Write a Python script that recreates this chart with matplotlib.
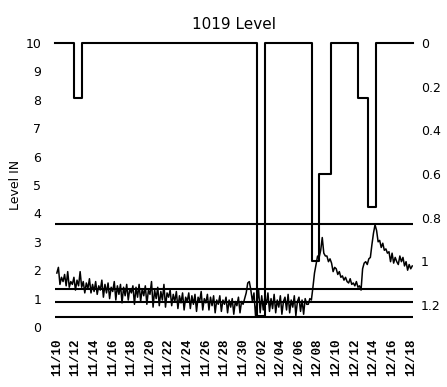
import numpy as np
import pandas as pd
import matplotlib
matplotlib.use("Agg")
import matplotlib.pyplot as plt
import matplotlib.dates as mdates

###############################################################################
# Data
###############################################################################
start_day = "2009-11-10"

# Level IN readings, every 4 hours from 11/10 00:00 (one row per day)
level_in = [
  1.90, 2.10, 1.50, 1.75, 1.60, 1.85,   # 11/10
  1.45, 1.95, 1.40, 1.60, 1.50, 1.75,   # 11/11
  1.30, 1.65, 1.45, 1.95, 1.40, 1.60,   # 11/12
  1.20, 1.55, 1.35, 1.70, 1.20, 1.50,   # 11/13
  1.25, 1.60, 1.15, 1.45, 1.30, 1.65,   # 11/14
  1.05, 1.50, 1.20, 1.55, 1.00, 1.40,   # 11/15
  1.25, 1.60, 0.95, 1.45, 1.15, 1.50,   # 11/16
  0.85, 1.40, 1.10, 1.50, 0.95, 1.35,   # 11/17
  1.20, 1.45, 0.80, 1.40, 1.05, 1.50,   # 11/18
  0.90, 1.35, 1.10, 1.45, 0.80, 1.30,   # 11/19
  1.15, 1.60, 0.70, 1.30, 1.00, 1.40,   # 11/20
  0.75, 1.25, 0.95, 1.50, 0.70, 1.20,   # 11/21
  1.05, 1.30, 0.75, 1.15, 0.90, 1.25,   # 11/22
  0.65, 1.10, 0.85, 1.20, 0.60, 1.05,   # 11/23
  0.90, 1.20, 0.65, 1.10, 0.80, 1.15,   # 11/24
  0.55, 1.05, 0.90, 1.25, 0.60, 1.00,   # 11/25
  0.85, 1.15, 0.60, 1.05, 0.75, 1.10,   # 11/26
  0.50, 0.95, 0.80, 1.10, 0.55, 0.95,   # 11/27
  0.80, 1.05, 0.50, 0.95, 0.70, 1.00,   # 11/28
  0.45, 0.90, 0.75, 1.05, 0.50, 0.90,   # 11/29
  0.80, 1.00, 1.20, 1.55, 1.60, 1.30,   # 11/30
  0.90, 1.20, 0.40, 0.90, 1.30, 0.50,   # 12/01
  1.10, 0.60, 1.05, 0.80, 1.20, 0.55,   # 12/02
  1.00, 0.65, 1.15, 0.50, 0.95, 0.70,   # 12/03
  1.10, 0.45, 0.90, 1.05, 0.60, 1.15,   # 12/04
  0.50, 0.95, 0.70, 1.10, 0.40, 0.90,   # 12/05
  1.05, 0.55, 0.95, 0.45, 1.00, 0.80,   # 12/06
  0.80, 1.00, 0.95, 1.40, 1.90, 2.20,   # 12/07
  2.50, 2.45, 2.70, 3.15, 2.60, 2.50,   # 12/08
  2.50, 2.30, 2.40, 2.25, 1.95, 2.10,   # 12/09
  2.05, 1.85, 1.95, 1.75, 1.80, 1.65,   # 12/10
  1.75, 1.60, 1.55, 1.70, 1.50, 1.55,   # 12/11
  1.45, 1.60, 1.40, 1.45, 1.30, 2.05,   # 12/12
  2.25, 2.30, 2.20, 2.40, 2.45, 2.90,   # 12/13
  3.30, 3.60, 3.40, 3.00, 3.05, 2.80,   # 12/14
  2.95, 2.70, 2.75, 2.60, 2.65, 2.30,   # 12/15
  2.60, 2.25, 2.45, 2.30, 2.20, 2.50,   # 12/16
  2.30, 2.45, 2.15, 2.30, 2.00, 2.20,   # 12/17
  2.05, 2.15,                           # 12/18
]

# Step series on the right (inverted) axis: days after 11/10 00:00, value
step_days   = [-0.2, 1.82, 2.68, 21.46, 22.3, 27.36, 28.2, 29.4, 32.3, 33.4, 34.3, 38.2]
step_values = [0.0,  0.25, 0.0,  1.25,  0.0,  1.0,   0.6,  0.0,  0.25, 0.75, 0.0,  0.0]

# Horizontal reference levels (left axis)
ref_levels = [3.62, 1.35, 0.88, 0.35]

left_ticks = list(range(0, 11))
right_ticks = [0, 0.2, 0.4, 0.6, 0.8, 1.0, 1.2]
right_labels = ["0", "0.2", "0.4", "0.6", "0.8", "1", "1.2"]

###############################################################################
# Build time axes
###############################################################################
t0 = pd.Timestamp(start_day)
level_t = pd.date_range(t0, periods=len(level_in), freq="4h")
step_t = [t0 + pd.Timedelta(days=d) for d in step_days]

###############################################################################
# Plot
###############################################################################
fig = plt.figure(figsize=(4.47, 3.87), dpi=100)
ax = fig.add_axes([0.123, 0.155, 0.800, 0.734])
ax2 = ax.twinx()

for lev in ref_levels:
  ax.axhline(lev, color="black", lw=1.5)
ax.plot(level_t, level_in, color="black", lw=1.1)
ax2.plot(step_t, step_values, color="black", lw=1.5, drawstyle="steps-post", clip_on=False)

ax.set_xlim(step_t[0], step_t[-1])
ax.set_ylim(0, 10)
ax2.set_ylim(1.3, 0)

ax.set_yticks(left_ticks)
ax2.set_yticks(right_ticks)
ax2.set_yticklabels(right_labels)

xt = pd.date_range(t0, periods=20, freq="2D")
ax.set_xticks(xt)
ax.set_xticklabels([d.strftime("%m/%d") for d in xt], rotation=90,
                   family="Liberation Mono", fontweight="bold", fontsize=9)

ax.tick_params(axis="y", length=0, pad=10, labelsize=9)
ax2.tick_params(axis="y", length=0, pad=6, labelsize=9)
ax.tick_params(axis="x", length=0, pad=8)

for a in (ax, ax2):
  for s in a.spines.values():
    s.set_visible(False)

ax.set_ylabel("Level IN", fontsize=9, labelpad=2)
ax.set_title("1019 Level", fontsize=11, pad=10)

fig.savefig("out.png", dpi=100)
